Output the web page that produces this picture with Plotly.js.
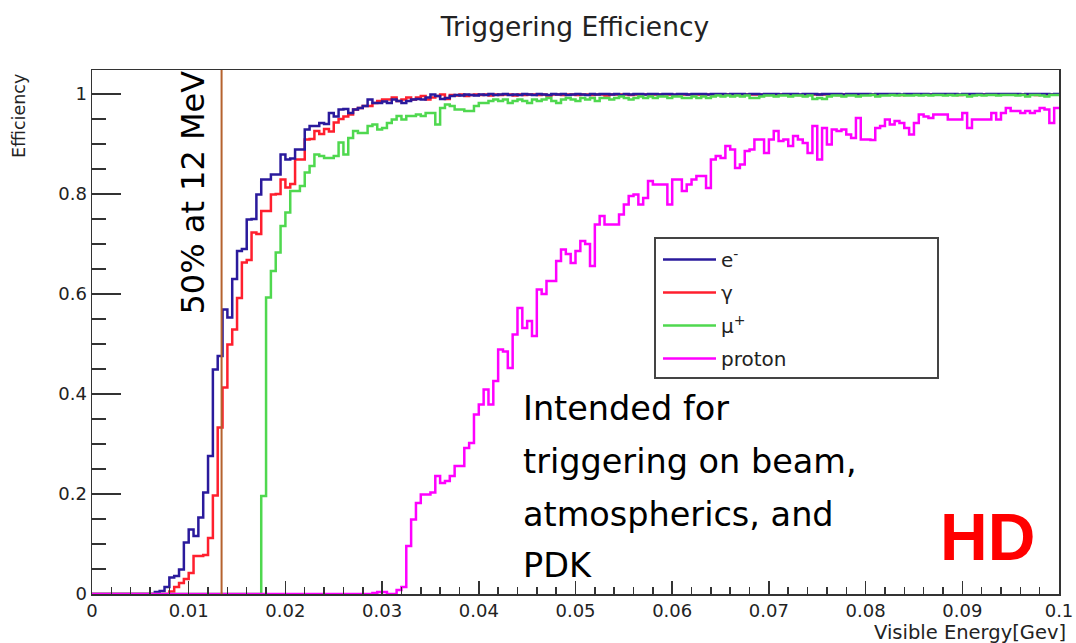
<!DOCTYPE html>
<html>
<head>
<meta charset="utf-8">
<script src="https://cdn.plot.ly/plotly-3.0.1.min.js"></script>
<style>
  html, body { margin: 0; padding: 0; background: #ffffff; }
  #chart { width: 1076px; height: 643px; }
</style>
</head>
<body>
<div id="chart"></div>
<script>
// ---------------- data ----------------
const binWidth = 0.0005;          // GeV per bin (200 bins from 0 to 0.1)
const xMax = 0.1;

const seriesNames = ["e<sup>-</sup>", "γ", "μ<sup>+</sup>", "proton"];

const eMinus = [
  0,0,0,0,0,0,0,0,0,0,
  0,0,0,0.004,0.006,0.014,0.033,0.036,0.049,0.103,
  0.129,0.116,0.153,0.203,0.276,0.449,0.476,0.569,0.553,0.630,
  0.686,0.690,0.749,0.750,0.799,0.829,0.829,0.839,0.839,0.879,
  0.869,0.871,0.889,0.889,0.929,0.936,0.936,0.942,0.940,0.962,
  0.955,0.969,0.970,0.962,0.969,0.972,0.976,0.989,0.982,0.982,
  0.985,0.982,0.989,0.986,0.982,0.986,0.989,0.990,0.989,0.993,
  0.999,0.996,0.990,0.992,0.996,0.998,0.997,0.999,0.998,0.997,
  0.999,0.998,1.000,0.998,0.999,1.000,0.998,0.999,0.998,1.000,
  0.999,0.998,1.000,0.999,0.998,1.000,0.999,1.000,0.998,0.999,
  1.000,0.999,0.998,1.000,0.999,1.000,1.000,0.999,1.000,0.998,
  1.000,0.999,1.000,1.000,0.999,1.000,1.000,0.999,1.000,1.000,
  0.999,1.000,1.000,0.999,1.000,1.000,1.000,0.999,1.000,1.000,
  1.000,0.999,1.000,1.000,1.000,0.999,1.000,1.000,0.999,1.000,
  1.000,1.000,0.999,1.000,1.000,1.000,0.999,1.000,1.000,1.000,
  0.999,1.000,1.000,1.000,1.000,0.999,1.000,1.000,1.000,1.000,
  1.000,0.999,1.000,1.000,1.000,1.000,1.000,0.999,1.000,1.000,
  1.000,1.000,1.000,0.999,1.000,1.000,1.000,1.000,1.000,0.999,
  1.000,1.000,1.000,1.000,0.999,1.000,1.000,1.000,1.000,1.000,
  1.000,1.000,0.999,1.000,1.000,1.000,1.000,1.000,0.999,1.000
];

const gamma = [
  0,0,0,0,0,0,0,0,0,0,
  0,0,0,0,0,0,0.005,0.014,0.022,0.030,
  0.042,0.076,0.076,0.078,0.112,0.197,0.333,0.413,0.499,0.529,
  0.592,0.663,0.668,0.723,0.720,0.766,0.766,0.799,0.800,0.829,
  0.813,0.820,0.869,0.869,0.909,0.910,0.926,0.920,0.930,0.925,
  0.943,0.950,0.955,0.959,0.969,0.972,0.976,0.976,0.982,0.986,
  0.989,0.989,0.993,0.986,0.989,0.993,0.989,0.993,0.996,0.989,
  0.993,0.996,0.999,0.990,0.998,0.997,0.999,0.996,0.998,0.999,
  0.998,0.999,0.997,0.999,0.998,0.999,0.999,0.997,0.999,0.998,
  0.999,0.999,0.998,0.999,0.997,0.999,0.999,0.998,0.999,0.999,
  0.998,0.999,0.999,0.998,0.999,0.999,0.997,0.999,0.999,0.999,
  0.999,0.998,0.999,0.999,0.999,0.998,0.999,0.999,0.999,0.999,
  0.998,0.999,0.999,0.999,0.999,0.999,0.998,0.999,0.999,0.999,
  0.999,0.999,0.999,0.998,0.999,0.999,0.999,0.999,0.999,0.998,
  0.999,0.999,0.999,0.999,0.999,0.999,0.998,0.999,0.999,0.999,
  0.999,0.999,0.999,0.999,0.998,0.999,0.999,0.999,0.999,0.999,
  0.999,0.999,0.999,0.999,0.999,0.999,0.999,0.998,0.999,0.999,
  0.999,0.999,0.999,0.999,0.999,0.999,0.999,0.999,0.999,0.998,
  0.999,0.999,0.999,0.999,0.999,0.999,0.999,0.999,0.999,0.999,
  0.999,0.999,0.999,0.999,0.999,0.998,0.999,0.999,0.999,0.999
];

const muPlus = [
  0,0,0,0,0,0,0,0,0,0,
  0,0,0,0,0,0,0,0,0,0,
  0,0,0,0,0,0,0,0,0,0,
  0,0,0,0,0,0.196,0.593,0.646,0.683,0.736,
  0.763,0.806,0.806,0.816,0.843,0.856,0.879,0.876,0.872,0.872,
  0.876,0.903,0.879,0.912,0.926,0.922,0.922,0.936,0.939,0.929,
  0.932,0.942,0.949,0.956,0.949,0.956,0.956,0.959,0.956,0.962,
  0.962,0.939,0.972,0.979,0.976,0.969,0.969,0.966,0.966,0.976,
  0.982,0.982,0.986,0.989,0.986,0.989,0.982,0.986,0.989,0.986,
  0.982,0.989,0.986,0.989,0.992,0.986,0.982,0.989,0.992,0.989,
  0.986,0.992,0.989,0.992,0.986,0.992,0.992,0.989,0.992,0.995,
  0.992,0.989,0.992,0.995,0.992,0.995,0.992,0.995,0.995,0.992,
  0.995,0.995,0.992,0.992,0.995,0.992,0.995,0.992,0.995,0.997,
  0.995,0.997,0.995,0.997,0.995,0.997,0.992,0.992,0.995,0.997,
  0.997,0.995,0.997,0.997,0.995,0.997,0.997,0.995,0.997,0.990,
  0.992,0.990,0.995,0.997,0.997,0.995,0.997,0.997,0.995,0.997,
  0.997,0.998,0.995,0.997,0.997,0.998,0.997,0.998,0.997,0.997,
  0.998,0.997,0.998,0.997,0.998,0.998,0.997,0.998,0.997,0.998,
  0.998,0.995,0.997,0.998,0.997,0.998,0.998,0.997,0.998,0.998,
  0.998,0.997,0.998,0.995,0.998,0.998,0.997,0.995,0.998,0.998
];

const proton = [
  0,0,0,0,0,0,0,0,0,0,
  0,0,0,0,0,0,0,0,0,0,
  0,0,0,0,0,0,0,0,0,0,
  0,0,0,0,0,0,0,0,0,0,
  0,0,0,0,0,0,0,0,0,0,
  0,0,0,0,0,0,0,0,0.002,0.004,
  0.004,0,0,0.008,0.014,0.096,0.149,0.182,0.199,0.199,
  0.203,0.236,0.222,0.226,0.236,0.256,0.256,0.292,0.302,0.359,
  0.379,0.409,0.379,0.426,0.489,0.485,0.452,0.519,0.572,0.532,
  0.546,0.516,0.609,0.600,0.626,0.626,0.666,0.689,0.680,0.662,
  0.686,0.706,0.700,0.656,0.739,0.756,0.739,0.739,0.739,0.759,
  0.779,0.796,0.799,0.779,0.792,0.826,0.819,0.819,0.819,0.779,
  0.829,0.829,0.806,0.819,0.829,0.836,0.836,0.812,0.869,0.876,
  0.872,0.896,0.889,0.852,0.859,0.886,0.889,0.909,0.909,0.882,
  0.909,0.926,0.906,0.909,0.896,0.916,0.909,0.902,0.882,0.936,
  0.869,0.932,0.899,0.929,0.926,0.929,0.919,0.912,0.952,0.909,
  0.909,0.908,0.932,0.936,0.949,0.939,0.946,0.942,0.932,0.919,
  0.942,0.959,0.955,0.952,0.959,0.959,0.959,0.949,0.949,0.949,
  0.962,0.932,0.949,0.949,0.949,0.949,0.962,0.949,0.962,0.972,
  0.966,0.966,0.962,0.966,0.962,0.966,0.972,0.969,0.942,0.972
];

const thresholdX = 0.0134;   // vertical "50% at 12 MeV" marker line
const xTickLabels = ["0","0.01","0.02","0.03","0.04","0.05","0.06","0.07","0.08","0.09","0.1"];
const yTickLabels = ["0","0.2","0.4","0.6","0.8","1"];

// ---------------- build step traces ----------------
function stepXY(vals) {
  const xs = vals.map((_, i) => i * binWidth);
  const ys = vals.slice();
  xs.push(xMax); ys.push(vals[vals.length - 1]);
  return { xs, ys };
}

const colors = { e: "#2a1a9c", g: "#ff1f2e", m: "#4fd84f", p: "#ff00ff" };
function mk(vals, name, color, rank) {
  const s = stepXY(vals);
  return {
    x: s.xs, y: s.ys, name: name, type: "scatter", mode: "lines",
    line: { shape: "hv", color: color, width: 2.5 },
    legendrank: rank, legendgroup: "g" + rank, hoverinfo: "skip"
  };
}

const traces = [
  mk(gamma, seriesNames[1], colors.g, 2),
  mk(eMinus, seriesNames[0], colors.e, 1),
  mk(muPlus, seriesNames[2], colors.m, 3),
  mk(proton, seriesNames[3], colors.p, 4)
];

const FONT = "DejaVu Sans, Liberation Sans, sans-serif";
const axisCol = "#333333";
const L = 92, R = 17, T = 70, B = 49, W = 1076, H = 643;
const pw = W - L - R, ph = H - T - B;
const px2x = px => (px - L) / pw;
const py2y = py => (H - B - py) / ph;

const xTickVals = xTickLabels.map(Number);
const yTickVals = yTickLabels.map(Number);

const layout = {
  width: W, height: H,
  margin: { l: L, r: R, t: T, b: B, pad: 0 },
  paper_bgcolor: "#ffffff", plot_bgcolor: "#ffffff",
  font: { family: FONT, color: "#222222" },
  title: {
    text: "Triggering Efficiency",
    font: { family: FONT, size: 26.5, color: "#222222" },
    xref: "container", x: 575 / W, xanchor: "center",
    yref: "container", y: 1 - 27 / H, yanchor: "middle"
  },
  xaxis: {
    range: [0, xMax], tickmode: "array", tickvals: xTickVals, ticktext: xTickLabels,
    ticks: "inside", ticklen: 13, tickwidth: 1.5, tickcolor: axisCol,
    minor: { dtick: 0.002, tick0: 0, ticks: "inside", ticklen: 7, tickwidth: 1.5, tickcolor: axisCol, showgrid: false },
    showline: true, linecolor: axisCol, linewidth: 1.5, mirror: true,
    showgrid: false, zeroline: false,
    tickfont: { family: FONT, size: 18, color: "#222222" }
  },
  yaxis: {
    range: [0, ph / 500], tickmode: "array", tickvals: yTickVals, ticktext: yTickLabels,
    ticks: "inside", ticklen: 29, tickwidth: 1.5, tickcolor: axisCol,
    minor: { dtick: 0.05, tick0: 0, ticks: "inside", ticklen: 14, tickwidth: 1.5, tickcolor: axisCol, showgrid: false },
    showline: true, linecolor: axisCol, linewidth: 1.5, mirror: true,
    showgrid: false, zeroline: false,
    tickfont: { family: FONT, size: 18, color: "#222222" }
  },
  showlegend: true,
  legend: {
    x: px2x(658), y: py2y(240), xanchor: "left", yanchor: "top",
    bgcolor: "rgba(255,255,255,0)", borderwidth: 0,
    font: { family: FONT, size: 20, color: "#222222" },
    tracegroupgap: 4, itemwidth: 53
  },
  shapes: [
    { type: "rect", xref: "paper", yref: "paper",
      x0: px2x(655), x1: px2x(938), y0: py2y(378), y1: py2y(238),
      fillcolor: "#ffffff", line: { color: "#444444", width: 2 }, layer: "above" },
    { type: "line", xref: "x", yref: "paper", x0: thresholdX, x1: thresholdX, y0: 0, y1: 1,
      line: { color: "#b5622e", width: 2 }, layer: "above" }
  ],
  annotations: [
    { text: "Efficiency", xref: "paper", yref: "paper", x: px2x(19), y: py2y(72),
      xanchor: "center", yanchor: "top", textangle: -90, showarrow: false,
      font: { family: FONT, size: 17.5, color: "#222222" } },
    { text: "Visible Energy[Gev]", xref: "paper", yref: "paper", x: px2x(1068), y: py2y(632),
      xanchor: "right", yanchor: "middle", showarrow: false,
      font: { family: FONT, size: 19.5, color: "#222222" } },
    { text: "50% at 12 MeV", xref: "paper", yref: "paper", x: px2x(192), y: py2y(192.5),
      xanchor: "center", yanchor: "middle", textangle: -90, showarrow: false,
      font: { family: FONT, size: 32, color: "#000000" } },
    { text: "Intended for", xref: "paper", yref: "paper", x: px2x(521), y: py2y(408.5),
      xanchor: "left", yanchor: "middle", showarrow: false,
      font: { family: FONT, size: 33.5, color: "#000000" } },
    { text: "triggering on beam,", xref: "paper", yref: "paper", x: px2x(521), y: py2y(461.5),
      xanchor: "left", yanchor: "middle", showarrow: false,
      font: { family: FONT, size: 33.5, color: "#000000" } },
    { text: "atmospherics, and", xref: "paper", yref: "paper", x: px2x(521), y: py2y(514.5),
      xanchor: "left", yanchor: "middle", showarrow: false,
      font: { family: FONT, size: 33.5, color: "#000000" } },
    { text: "PDK", xref: "paper", yref: "paper", x: px2x(521), y: py2y(565.5),
      xanchor: "left", yanchor: "middle", showarrow: false,
      font: { family: FONT, size: 33.5, color: "#000000" } },
    { text: "<b>HD</b>", xref: "paper", yref: "paper", x: px2x(987), y: py2y(537),
      xanchor: "center", yanchor: "middle", showarrow: false,
      font: { family: "Liberation Sans, Arial, sans-serif", size: 66, color: "#ff0000" } }
  ]
};

Plotly.newPlot("chart", traces, layout, { displayModeBar: false, staticPlot: true });
</script>
</body>
</html>
